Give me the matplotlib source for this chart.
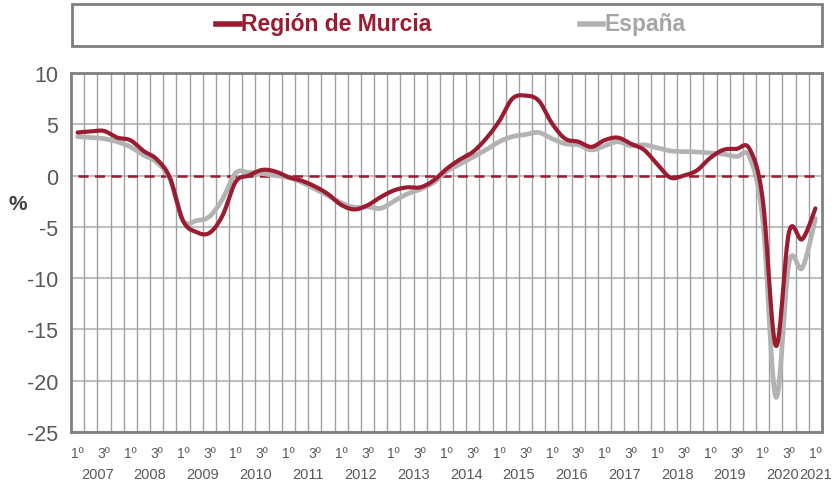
import matplotlib
matplotlib.use("Agg")
import matplotlib.pyplot as plt
import numpy as np
from matplotlib.patches import Rectangle
from matplotlib.lines import Line2D
from matplotlib.transforms import blended_transform_factory

plt.rcParams['font.family'] = ['Liberation Sans', 'DejaVu Sans']
plt.rcParams['axes.unicode_minus'] = False

# datos trimestrales 2007T1 - 2021T1 (%)
years = ['2007', '2008', '2009', '2010', '2011', '2012', '2013', '2014',
         '2015', '2016', '2017', '2018', '2019', '2020', '2021']
quarters = []
for y in years:
    quarters += [y + 'T1', y + 'T2', y + 'T3', y + 'T4']
quarters = quarters[:57]

murcia = [4.2, 4.3, 4.35, 3.7, 3.45, 2.4, 1.6, -0.2,
          -4.4, -5.5, -5.6, -3.9, -0.6, 0.0, 0.55, 0.4,
          -0.15, -0.5, -1.05, -1.8, -2.85, -3.3, -2.9, -2.1,
          -1.45, -1.15, -1.15, -0.5, 0.65, 1.55, 2.3, 3.6,
          5.3, 7.5, 7.8, 7.3, 5.1, 3.6, 3.3, 2.8,
          3.45, 3.7, 3.1, 2.5, 1.1, -0.2, 0.0, 0.5,
          1.7, 2.5, 2.6, 2.6, -2.3, -16.6, -5.5, -6.2,
          -3.2]
espana = [3.8, 3.7, 3.6, 3.3, 2.8, 2.0, 1.3, -0.3,
          -4.4, -4.4, -4.0, -2.3, 0.25, 0.3, 0.2, 0.0,
          -0.2, -0.65, -1.3, -1.95, -2.65, -3.1, -3.05, -3.2,
          -2.5, -1.8, -1.35, -0.7, 0.4, 1.1, 1.8, 2.5,
          3.3, 3.8, 4.0, 4.2, 3.6, 3.1, 3.0, 2.5,
          2.9, 3.3, 2.9, 3.0, 2.7, 2.4, 2.35, 2.3,
          2.2, 2.1, 1.85, 1.8, -4.3, -21.6, -8.5, -9.0,
          -4.2]
cero = [0.0] * len(quarters)

ROJO = '#9B1B30'
GRIS = '#B3B3B3'


def suave(x, y, n=24):
    # curva suavizada tipo Excel (bezier catmull-rom)
    x = np.asarray(x, float)
    y = np.asarray(y, float)
    px, py = [], []
    t = np.linspace(0, 1, n)
    for k in range(len(x) - 1):
        k0 = max(k - 1, 0)
        k3 = min(k + 2, len(x) - 1)
        p0 = np.array([x[k0], y[k0]])
        p1 = np.array([x[k], y[k]])
        p2 = np.array([x[k + 1], y[k + 1]])
        p3 = np.array([x[k3], y[k3]])
        c1 = p1 + (p2 - p0) / 6
        c2 = p2 - (p3 - p1) / 6
        b = ((1 - t) ** 3)[:, None] * p1 + (3 * (1 - t) ** 2 * t)[:, None] * c1 \
            + (3 * (1 - t) * t ** 2)[:, None] * c2 + (t ** 3)[:, None] * p2
        px += list(b[:, 0])
        py += list(b[:, 1])
    return px, py


fig = plt.figure(figsize=(8.32, 4.85), dpi=100)
ax = fig.add_axes([71 / 832, 1 - 433 / 485, 751 / 832, 359 / 485])

xs = np.arange(len(quarters))

# rejilla
for v in range(-25, 11, 5):
    ax.axhline(v, color='#C0C0C0', lw=1.5, zorder=1)
for b in np.arange(0.5, len(quarters) - 0.5, 1):
    ax.axvline(b, color='#A0A0A0', lw=1.0, zorder=1)

ax.plot(xs, cero, color=ROJO, lw=1.8, dashes=(4, 2.6), zorder=2)
gx, gy = suave(xs, espana)
ax.plot(gx, gy, color=GRIS, lw=3.4, solid_capstyle='round', zorder=3)
rx, ry = suave(xs, murcia)
ax.plot(rx, ry, color=ROJO, lw=3.0, solid_capstyle='round', zorder=4)

ax.set_xlim(-0.5, len(quarters) - 0.5)
ax.set_ylim(-25, 10)
ax.set_yticks(range(-25, 11, 5))
ax.tick_params(axis='y', length=0, pad=9, labelsize=15.5, labelcolor='#595959')
ax.set_xticks([])
for s in ax.spines.values():
    s.set_color('#808080')
    s.set_linewidth(2)

# etiquetas del eje x
tr = blended_transform_factory(ax.transData, ax.transAxes)
for i, q in enumerate(quarters):
    if i % 2 == 0:
        lab = '1º' if q.endswith('T1') else '3º'
        ax.text(i, -0.058, lab, transform=tr, ha='center', va='center',
                fontsize=10, color='#595959')
for y in years:
    idx = [i for i, q in enumerate(quarters) if q.startswith(y)]
    ax.text(np.mean(idx), -0.116, y, transform=tr, ha='center', va='center',
            fontsize=10.5, color='#595959')

fig.text(18 / 832, 1 - 205 / 485, '%', fontsize=15, fontweight='bold',
         color='#404040', ha='center', va='center')

# leyenda
fig.patches.append(Rectangle((72 / 832, 1 - 47 / 485), 750 / 832, 42 / 485,
                             transform=fig.transFigure, fill=False,
                             edgecolor='#7F7F7F', lw=2))
ly = 1 - 25 / 485
fig.lines.append(Line2D([216 / 832, 240 / 832], [ly, ly], transform=fig.transFigure,
                        color=ROJO, lw=4))
fig.text(241 / 832, ly, 'Región de Murcia', fontsize=16.5, fontweight='bold',
         color=ROJO, ha='left', va='center')
fig.lines.append(Line2D([580 / 832, 603 / 832], [ly, ly], transform=fig.transFigure,
                        color=GRIS, lw=4))
fig.text(604 / 832, ly, 'España', fontsize=16.5, fontweight='bold',
         color='#A6A6A6', ha='left', va='center')

fig.savefig('out.png', dpi=100)
